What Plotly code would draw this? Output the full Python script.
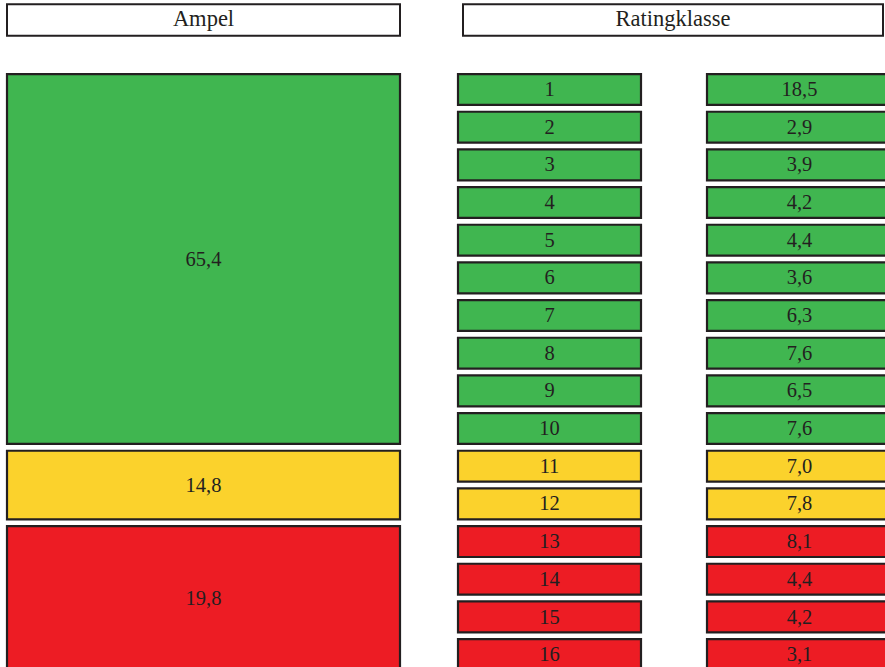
import plotly.graph_objects as go

# ---------------- data ----------------
header_labels = ["Ampel", "Ratingklasse"]
ampel_groups = ["grün", "gelb", "rot"]
ampel_values = [65.4, 14.8, 19.8]
rating_classes = ["1", "2", "3", "4", "5", "6", "7", "8", "9", "10",
                  "11", "12", "13", "14", "15", "16"]
class_shares = [18.5, 2.9, 3.9, 4.2, 4.4, 3.6, 6.3, 7.6, 6.5, 7.6,
                7.0, 7.8, 8.1, 4.4, 4.2, 3.1]
class_ampel = ["grün", "grün", "grün", "grün", "grün", "grün", "grün", "grün",
               "grün", "grün", "gelb", "gelb", "rot", "rot", "rot", "rot"]

# ---------------- style / layout ----------------
colors = {"grün": "#40B650", "gelb": "#FBD22C", "rot": "#ED1C24"}
edge = "#231F20"
font_family = "Liberation Serif, Times New Roman, serif"

# column extents on the x axis (pixels)
col_ampel = (7, 400)
col_class = (458, 641)
col_share = (707, 892)
hdr_ampel = (7, 400)
hdr_class = (463, 883)

pitch = 37.67         # pixels per row
row_h = 0.82          # box height in row units
header_row = -1.845   # header position in row units
txt_dy = 1.5 / pitch  # small downward nudge of digit labels


def fmt(v):
    return f"{v:.1f}".replace(".", ",")


fig = go.Figure()

# headers
hdr_cols = [hdr_ampel, hdr_class]
fig.add_trace(go.Bar(
    orientation="h",
    y=[header_row] * len(header_labels),
    base=[c[0] for c in hdr_cols],
    x=[c[1] - c[0] for c in hdr_cols],
    width=0.83,
    marker=dict(color="white", line=dict(color=edge, width=2)),
    textposition="none", hoverinfo="skip", showlegend=False,
))
fig.add_trace(go.Scatter(
    x=[(c[0] + c[1]) / 2 for c in hdr_cols],
    y=[header_row] * len(header_labels),
    text=header_labels, mode="text", textposition="middle center",
    textfont=dict(family=font_family, size=22.5, color=edge),
    hoverinfo="skip", showlegend=False,
))

# ampel group boxes spanning their rating-class rows
n = len(rating_classes)
g_center, g_width = [], []
for g in ampel_groups:
    idx = [i for i in range(n) if class_ampel[i] == g]
    top = min(idx) - row_h / 2
    bot = max(idx) + row_h / 2
    g_center.append((top + bot) / 2)
    g_width.append(bot - top)

fig.add_trace(go.Bar(
    orientation="h",
    y=g_center,
    base=[col_ampel[0]] * len(ampel_groups),
    x=[col_ampel[1] - col_ampel[0]] * len(ampel_groups),
    width=g_width,
    marker=dict(color=[colors[g] for g in ampel_groups], line=dict(color=edge, width=2.2)),
    textposition="none", hoverinfo="skip", showlegend=False,
))
fig.add_trace(go.Scatter(
    x=[(col_ampel[0] + col_ampel[1]) / 2] * len(ampel_groups),
    y=[c + txt_dy for c in g_center],
    text=[fmt(v) for v in ampel_values], mode="text", textposition="middle center",
    textfont=dict(family=font_family, size=20.5, color=edge),
    hoverinfo="skip", showlegend=False,
))

# rating classes and shares
rows = list(range(n))
for col, labels in [(col_class, rating_classes), (col_share, [fmt(v) for v in class_shares])]:
    fig.add_trace(go.Bar(
        orientation="h",
        y=rows,
        base=[col[0]] * n,
        x=[col[1] - col[0]] * n,
        width=row_h,
        marker=dict(color=[colors[a] for a in class_ampel], line=dict(color=edge, width=2.2)),
        textposition="none", hoverinfo="skip", showlegend=False,
    ))
    fig.add_trace(go.Scatter(
        x=[(col[0] + col[1]) / 2] * n,
        y=[r + txt_dy for r in rows],
        text=labels, mode="text", textposition="middle center",
        textfont=dict(family=font_family, size=20.5, color=edge),
        hoverinfo="skip", showlegend=False,
    ))

fig.update_layout(
    width=885, height=667, autosize=False,
    margin=dict(l=0, r=0, t=0, b=0),
    paper_bgcolor="white", plot_bgcolor="white",
    barmode="overlay",
    xaxis=dict(range=[0, 885], visible=False, fixedrange=True),
    yaxis=dict(range=[(667 - 89.5) / pitch, -89.5 / pitch], visible=False, fixedrange=True),
)

fig.write_html(
    "out.html",
    config={"displayModeBar": False},
    post_script="document.body.style.margin='0';document.body.style.overflow='hidden';",
)
